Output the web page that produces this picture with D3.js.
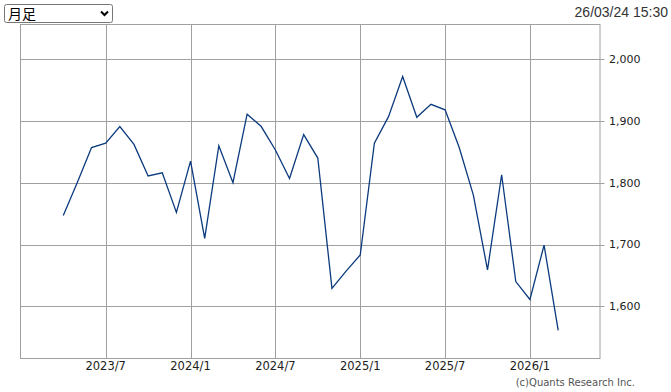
<!DOCTYPE html>
<html>
<head>
<meta charset="utf-8">
<script src="https://cdn.jsdelivr.net/npm/d3@7"></script>
<style>
  body { margin: 0; background: #fff; }
  svg { display: block; }
</style>
</head>
<body>
<svg class="chart" width="671" height="392"></svg>
<script>
// monthly closes, 2023/4 .. 2026/3
const months = [
  '2023/4','2023/5','2023/6','2023/7','2023/8','2023/9','2023/10','2023/11','2023/12',
  '2024/1','2024/2','2024/3','2024/4','2024/5','2024/6','2024/7','2024/8','2024/9',
  '2024/10','2024/11','2024/12','2025/1','2025/2','2025/3','2025/4','2025/5','2025/6',
  '2025/7','2025/8','2025/9','2025/10','2025/11','2025/12','2026/1','2026/2','2026/3'
];
const closes = [
  1747, 1801, 1857, 1864, 1891, 1862, 1811, 1816, 1752,
  1835, 1710, 1860, 1800, 1911, 1891, 1853, 1807, 1878,
  1840, 1629, 1657, 1683, 1864, 1907, 1972, 1906, 1927,
  1918, 1857, 1780, 1659, 1813, 1640, 1611, 1699, 1561
];
const xTickLabels = ['2023/7', '2024/1', '2024/7', '2025/1', '2025/7', '2026/1'];
const yTicks = [1600, 1700, 1800, 1900, 2000];
const periodLabel = '月足';
const stamp = '26/03/24 15:30';
const credit = '(c)Quants Research Inc.';

const plot = { left: 20, right: 599.5, top: 24, bottom: 358 };
const gridColor = '#a0a0a0';
const lineColor = '#0b3a7e';

const svg = d3.select('svg.chart');

const data = months.map((m, i) => ({ month: m, i: i, value: closes[i] }));

const x = d3.scaleLinear()
  .domain([-3.06, 37.92])
  .range([plot.left, plot.right]);

const y = d3.scaleLinear()
  .domain([1516.3, 2057])
  .range([plot.bottom, plot.top]);

// plot frame
svg.append('rect')
  .attr('x', plot.left + 0.5)
  .attr('y', plot.top + 0.5)
  .attr('width', plot.right - plot.left)
  .attr('height', plot.bottom - plot.top)
  .style('fill', 'none')
  .style('stroke', gridColor);

// vertical grid (at the labelled months)
const xTickIdx = xTickLabels.map(l => months.indexOf(l));
svg.selectAll('line.vgrid')
  .data(xTickIdx)
  .enter()
  .append('line')
  .attr('class', 'vgrid')
  .attr('x1', d => Math.round(x(d)) + 0.5)
  .attr('x2', d => Math.round(x(d)) + 0.5)
  .attr('y1', plot.top)
  .attr('y2', plot.bottom)
  .style('stroke', gridColor);

// horizontal grid + ticks on the right
svg.selectAll('line.hgrid')
  .data(yTicks)
  .enter()
  .append('line')
  .attr('class', 'hgrid')
  .attr('x1', plot.left)
  .attr('x2', plot.right + 5)
  .attr('y1', d => Math.round(y(d)) + 0.5)
  .attr('y2', d => Math.round(y(d)) + 0.5)
  .style('stroke', gridColor);

// right axis labels
svg.selectAll('text.ylab')
  .data(yTicks)
  .enter()
  .append('text')
  .attr('class', 'ylab')
  .attr('x', plot.right + 9.5)
  .attr('y', d => y(d))
  .attr('dy', '0.36em')
  .text(d3.format(','))
  .style('font-family', 'DejaVu Sans')
  .style('font-size', '11px')
  .style('fill', '#222');

// bottom labels
svg.selectAll('text.xlab')
  .data(xTickIdx)
  .enter()
  .append('text')
  .attr('class', 'xlab')
  .attr('x', d => x(d))
  .attr('y', 370)
  .attr('text-anchor', 'middle')
  .text((d, i) => xTickLabels[i])
  .style('font-family', 'DejaVu Sans')
  .style('font-size', '11.5px')
  .style('fill', '#222');

// price line
const line = d3.line()
  .x(d => x(d.i))
  .y(d => y(d.value));

svg.append('path')
  .datum(data)
  .attr('d', line)
  .style('fill', 'none')
  .style('stroke', lineColor)
  .style('stroke-width', 1.3)
  .style('stroke-linejoin', 'miter');

// period selector (drawn)
const sel = svg.append('g').attr('class', 'selector');
sel.append('rect')
  .attr('x', 4.5).attr('y', 4.5)
  .attr('width', 108).attr('height', 18)
  .attr('rx', 2)
  .style('fill', '#fff')
  .style('stroke', '#767676');
sel.append('text')
  .attr('x', 8).attr('y', 19)
  .text(periodLabel)
  .style('font-family', 'Noto Sans CJK JP')
  .style('font-size', '14px')
  .style('fill', '#000');
sel.append('path')
  .attr('d', 'M101,11.5 L104.5,15 L108,11.5')
  .style('fill', 'none')
  .style('stroke', '#000')
  .style('stroke-width', 2);

// timestamp
svg.append('text')
  .attr('x', 668).attr('y', 17)
  .attr('text-anchor', 'end')
  .text(stamp)
  .style('font-family', 'Liberation Sans')
  .style('font-size', '14px')
  .style('fill', '#333');

// credit
svg.append('text')
  .attr('x', 635).attr('y', 386)
  .attr('text-anchor', 'end')
  .text(credit)
  .style('font-family', 'DejaVu Sans')
  .style('font-size', '10px')
  .style('fill', '#555');
</script>
</body>
</html>
